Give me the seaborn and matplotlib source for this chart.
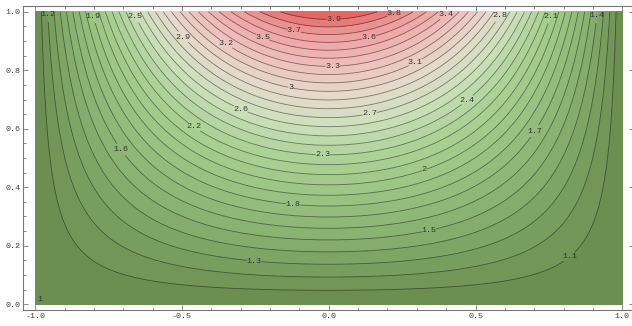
import numpy as np
import matplotlib
matplotlib.use("Agg")
import matplotlib.pyplot as plt
import seaborn as sns
from matplotlib.colors import LinearSegmentedColormap
from matplotlib.ticker import MultipleLocator, FormatStrFormatter

# field: value 1 on the sides and bottom,
# rising to 4 at the middle of the top edge
base_value = 1.0
peak_rise = 3.0
y_linear_share = 0.69   # shape of the vertical profile

# contour levels and the labels Mathematica put on them
levels = np.round(np.arange(1.0, 4.01, 0.1), 1)
label_values = [1.2, 1.9, 2.5, 3.9, 3.8, 3.4, 2.8, 2.1, 1.4,
                2.9, 3.2, 3.5, 3.7, 3.6, 3.3, 3.1, 3.0, 2.6, 2.7, 2.4,
                2.2, 1.7, 1.6, 2.3, 2.0, 1.8, 1.5, 1.3, 1.1]
label_spots = [(-0.951, 0.99), (-0.786, 0.99), (-0.648, 0.99), (0.016, 0.977),
               (0.222, 0.995), (0.396, 0.993), (0.572, 0.993), (0.739, 0.989),
               (0.904, 0.987), (-0.489, 0.92), (-0.347, 0.895), (-0.224, 0.915),
               (-0.12, 0.925), (0.137, 0.912), (0.014, 0.816), (0.292, 0.833),
               (-0.129, 0.744), (-0.299, 0.67), (0.139, 0.654), (0.469, 0.702),
               (-0.458, 0.607), (0.699, 0.594), (-0.708, 0.528), (-0.02, 0.515),
               (0.324, 0.463), (-0.12, 0.346), (0.341, 0.255), (-0.254, 0.148),
               (0.827, 0.154)]

# colour stops: value -> colour
color_values = [1.0, 1.5, 2.0, 2.3, 2.6, 2.95, 3.3, 3.7, 4.0]
color_hex = ["#688c4e", "#88b070", "#a0c888", "#b0d49c", "#cde0bc",
             "#e5d9cc", "#eec0bd", "#ee9c9c", "#e55c5c"]

sns.set_theme(style="ticks")
plt.rcParams["font.family"] = ["Liberation Mono", "DejaVu Sans Mono"]
plt.rcParams["axes.unicode_minus"] = False

xs = np.linspace(-1, 1, 401)
ys = np.linspace(0, 1, 201)
X, Y = np.meshgrid(xs, ys)
g = y_linear_share * Y + (1 - y_linear_share) * Y ** 2
Z = base_value + peak_rise * np.cos(np.pi * X / 2) * g

vmin, vmax = color_values[0], color_values[-1]
stops = [((v - vmin) / (vmax - vmin), c) for v, c in zip(color_values, color_hex)]
cmap = LinearSegmentedColormap.from_list("rg", stops)

fig = plt.figure(figsize=(6.32, 3.26), dpi=100)
ax = fig.add_axes([23.5 / 632, 16 / 326, 610.5 / 632, 304 / 326])

ax.contourf(X, Y, Z, levels=levels, cmap=cmap, vmin=vmin, vmax=vmax)

spots = {}
for v, spot in zip(label_values, label_spots):
    spots[round(v, 1)] = spot

for lev in levels[1:-1]:
    cs = ax.contour(X, Y, Z, levels=[lev], colors="black",
                    linewidths=0.6, alpha=0.45)
    key = round(float(lev), 1)
    if key in spots:
        txt = ax.clabel(cs, manual=[spots[key]], inline=True, inline_spacing=0,
                        fontsize=6, colors="#333333",
                        fmt=lambda t: f"{round(t, 1):g}")
        for t in txt:
            t.set_alpha(1.0)
            t.set_rotation(0)

ax.text(-0.985, 0.015, "1", fontsize=6, color="#333333",
        ha="center", va="center")

ax.set_xlim(-1.04, 1.04)
ax.set_ylim(-0.02, 1.02)
ax.xaxis.set_major_locator(MultipleLocator(0.5))
ax.xaxis.set_minor_locator(MultipleLocator(0.1))
ax.yaxis.set_major_locator(MultipleLocator(0.2))
ax.yaxis.set_minor_locator(MultipleLocator(0.05))
ax.xaxis.set_major_formatter(FormatStrFormatter("%.1f"))
ax.yaxis.set_major_formatter(FormatStrFormatter("%.1f"))
ax.tick_params(which="both", direction="in", top=True, right=True,
               color="#777777", width=0.6, labelsize=6, labelcolor="#444444",
               pad=2)
ax.tick_params(which="major", length=3.5)
ax.tick_params(which="minor", length=1.8)
for s in ax.spines.values():
    s.set_color("#777777")
    s.set_linewidth(0.8)

fig.savefig("out.png", dpi=100)
